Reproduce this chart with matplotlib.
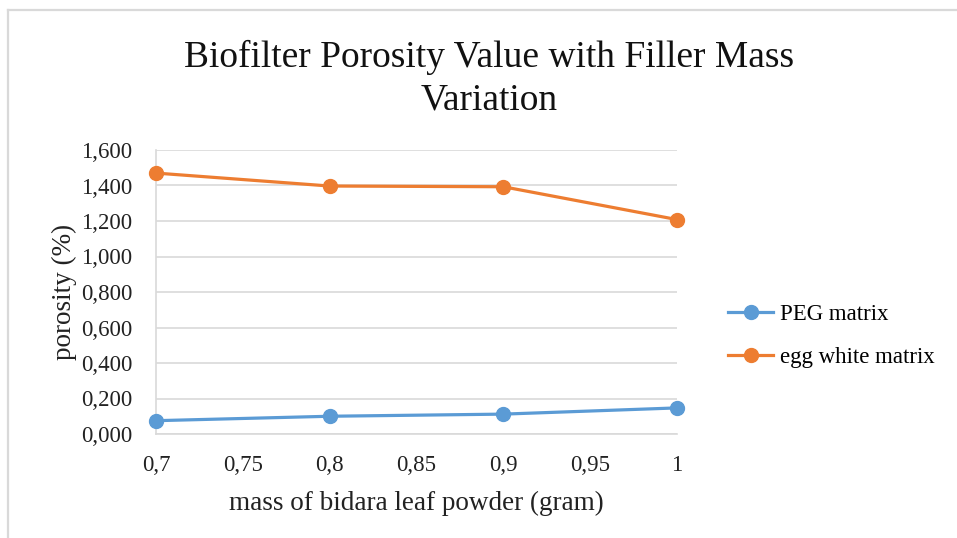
import matplotlib
matplotlib.use("Agg")
import matplotlib.pyplot as plt
from matplotlib.ticker import FuncFormatter, MultipleLocator
from matplotlib.lines import Line2D

mass = [0.7, 0.8, 0.9, 1.0]
peg = [0.075, 0.100, 0.112, 0.147]
egg = [1.470, 1.397, 1.393, 1.208]
series_names = ["PEG matrix", "egg white matrix"]
title = "Biofilter Porosity Value with Filler Mass\nVariation"
xlabel = "mass of bidara leaf powder (gram)"
ylabel = "porosity (%)"

plt.rcParams['font.family'] = ['Liberation Serif', 'DejaVu Serif']

fig = plt.figure(figsize=(9.57, 5.38), dpi=100)
fig.patch.set_facecolor('white')
ax = fig.add_axes([156/957, 1-434/538, (677-156)/957, (434-150)/538])

blue = '#5B9BD5'
orange = '#ED7D31'
ax.plot(mass, peg, color=blue, lw=2.3, marker='o', ms=10, label=series_names[0], clip_on=False, zorder=3)
ax.plot(mass, egg, color=orange, lw=2.3, marker='o', ms=10, label=series_names[1], clip_on=False, zorder=3)

ax.set_xlim(0.7, 1.0)
ax.set_ylim(0, 1.6)
ax.xaxis.set_major_locator(MultipleLocator(0.05))
ax.yaxis.set_major_locator(MultipleLocator(0.2))

def yfmt(v, p):
    return f"{v:.3f}".replace('.', ',')
def xfmt(v, p):
    s = f"{v:.2f}".rstrip('0').rstrip('.')
    return s.replace('.', ',')
ax.yaxis.set_major_formatter(FuncFormatter(yfmt))
ax.xaxis.set_major_formatter(FuncFormatter(xfmt))

ax.grid(axis='y', color='#d9d9d9', lw=1.2)
ax.set_axisbelow(True)
for s in ['top', 'right']:
    ax.spines[s].set_visible(False)
for s in ['left', 'bottom']:
    ax.spines[s].set_color('#d9d9d9')
    ax.spines[s].set_linewidth(1.2)
ax.tick_params(length=0, labelsize=16.5, colors='#222222')
ax.tick_params(axis='y', pad=17)
ax.tick_params(axis='x', pad=15)

ax.set_xlabel(xlabel, fontsize=19.5, color='#222222', labelpad=11)
ax.set_ylabel(ylabel, fontsize=19.5, color='#222222', labelpad=3)
fig.text(489/957, 1-79/538, title, ha='center', va='center', fontsize=27, color='#111111', linespacing=1.3)

leg = fig.legend(handles=ax.get_lines(), labels=series_names, loc='center left',
                 bbox_to_anchor=(707/957, 1-336/538), frameon=False, fontsize=16.5,
                 handlelength=2.0, handletextpad=0.3, labelspacing=0.95)

# outer frame lines (left and top)
fig.add_artist(Line2D([8/957, 8/957], [0, 1-10/538], transform=fig.transFigure, color='#d9d9d9', lw=1.6))
fig.add_artist(Line2D([8/957, 1], [1-10/538, 1-10/538], transform=fig.transFigure, color='#d9d9d9', lw=1.6))

fig.savefig('out.png', dpi=100, facecolor='white')
